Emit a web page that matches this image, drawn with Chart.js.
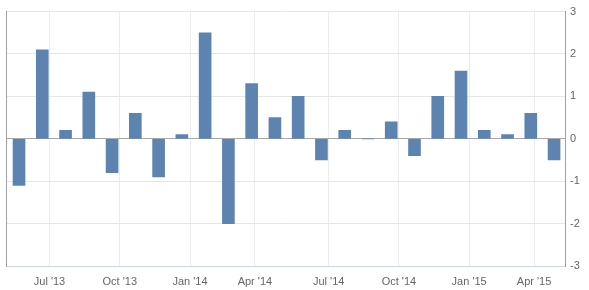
<!DOCTYPE html>
<html>
<head>
<meta charset="utf-8">
<script src="https://cdn.jsdelivr.net/npm/chart.js@4/dist/chart.umd.min.js"></script>
<style>
html,body{margin:0;padding:0;background:#fff;}
#wrap{width:589px;height:290px;}
</style>
</head>
<body>
<div id="wrap"><canvas id="c" width="589" height="290"></canvas></div>
<script>
// Months of the series (one bar each)
const categories = ['2013-05','2013-06','2013-07','2013-08','2013-09','2013-10','2013-11','2013-12',
  '2014-01','2014-02','2014-03','2014-04','2014-05','2014-06','2014-07','2014-08','2014-09','2014-10',
  '2014-11','2014-12','2015-01','2015-02','2015-03','2015-04'];
// Monthly change values
const values = [-1.1, 2.1, 0.2, 1.1, -0.8, 0.6, -0.9, 0.1, 2.5, -2.0, 1.3, 0.5,
  1.0, -0.5, 0.2, 0.0, 0.4, -0.4, 1.0, 1.6, 0.2, 0.1, 0.6, -0.5];
// X-axis tick labels and the month each marks
const tickLabels = ["Jul '13","Oct '13","Jan '14","Apr '14","Jul '14","Oct '14","Jan '15","Apr '15"];
const tickMonths = ['2013-07','2013-10','2014-01','2014-04','2014-07','2014-10','2015-01','2015-04'];
// Y-axis ticks
const yTicks = [-3,-2,-1,0,1,2,3];

const FONT = "'Liberation Sans', Arial, sans-serif";
// fraction of a bar step from previous month's bar to the month-start gridline
const monthFrac = {'01':0.35,'04':0.14,'07':0.31,'10':0.33};

const tickValues = tickMonths.map(m => categories.indexOf(m) - 1 + monthFrac[m.slice(5)]);

new Chart(document.getElementById('c'), {
  type: 'bar',
  data: {
    datasets: [{
      data: values.map((v, i) => ({x: i, y: v})),
      backgroundColor: '#5d84b1',
      borderWidth: 0,
      barThickness: 12
    }]
  },
  options: {
    responsive: false,
    animation: false,
    devicePixelRatio: 1,
    layout: {padding: {left: 6, top: 9, right: 0, bottom: 0}},
    plugins: {legend: {display: false}, tooltip: {enabled: false}},
    scales: {
      x: {
        type: 'linear',
        position: 'bottom',
        offset: false,
        min: -0.56,
        max: 23.47,
        afterBuildTicks: s => { s.ticks = tickValues.map(v => ({value: v})); },
        afterFit: s => { s.height = 24; },
        grid: {offset: false, color: '#ececec', drawTicks: false},
        border: {color: '#ccd6eb'},
        ticks: {
          autoSkip: false, maxRotation: 0, padding: 9,
          color: '#666', font: {family: FONT, size: 11},
          callback: (v, i) => tickLabels[i]
        }
      },
      y: {
        position: 'right',
        min: -3, max: 3,
        afterBuildTicks: s => { s.ticks = yTicks.map(v => ({value: v})); },
        afterFit: s => { s.width = 24; },
        grid: {
          drawTicks: false,
          color: c => (c.tick && c.tick.value === 0) ? '#a8a8a8' : '#e6e6e6'
        },
        border: {color: '#a0a0a0'},
        ticks: {padding: 5, color: '#666', font: {family: FONT, size: 11}}
      },
      yLeft: {
        position: 'left',
        min: -3, max: 3,
        afterFit: s => { s.width = 0; },
        grid: {display: false, drawTicks: false},
        border: {display: true, color: '#a0a0a0'},
        ticks: {display: false}
      }
    }
  }
});
</script>
</body>
</html>
